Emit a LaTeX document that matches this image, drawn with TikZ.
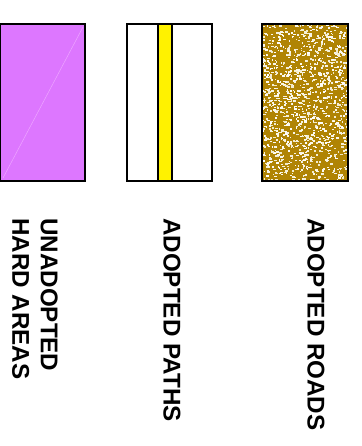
\documentclass[tikz,border=0pt]{standalone}
\usepackage{fontspec}
\setmainfont{Liberation Sans}
\definecolor{pinkfill}{RGB}{221,119,255}
\definecolor{pinkline}{RGB}{238,165,255}
\definecolor{goldfill}{RGB}{176,132,4}
\definecolor{speck}{RGB}{240,232,200}
\tikzset{
  box/.style={draw=black, line width=1.6pt},
  lbl/.style={rotate=-90, anchor=west, inner sep=0pt, font=\fontsize{24.2}{28.5}\selectfont\bfseries, align=left, text=black}
}
\begin{document}
\begin{tikzpicture}[x=1pt,y=-1pt]
\useasboundingbox (0,0) rectangle (361,446);
% unadopted hard areas
\fill[pinkfill] (0,24) rectangle (85,181);
\draw[pinkline, line width=0.5pt] (3,178) -- (83,27);
\draw[box] (0.5,24) rectangle (85,181);
% adopted paths
\draw[box] (127,24) rectangle (212,181);
\draw[box, fill=yellow] (158,24) rectangle (172,181);
% adopted roads
\fill[goldfill] (262,24) rectangle (348,181);
\begin{scope}
\clip (262,24) rectangle (348,181);
\pgfmathsetseed{7}
\foreach \i in {1,...,1300}{
  \pgfmathsetmacro\rx{262+86*rnd}
  \pgfmathsetmacro\ry{24+157*rnd}
  \pgfmathsetmacro\rw{0.9+2.2*rnd}
  \pgfmathsetmacro\rh{0.9+1.2*rnd}
  \pgfmathsetmacro\rc{100*rnd}
  \fill[speck!\rc!white] (\rx,\ry) rectangle ++(\rw,\rh);
}
\end{scope}
\draw[box] (262,24) rectangle (348,181);
% labels
\node[lbl] (l1) at (35,218) {UNADOPTED\\HARD AREAS};
\node[lbl] (l2) at (172,218) {ADOPTED PATHS};
\node[lbl] (l3) at (316,218) {ADOPTED ROADS};
\end{tikzpicture}
\end{document}
